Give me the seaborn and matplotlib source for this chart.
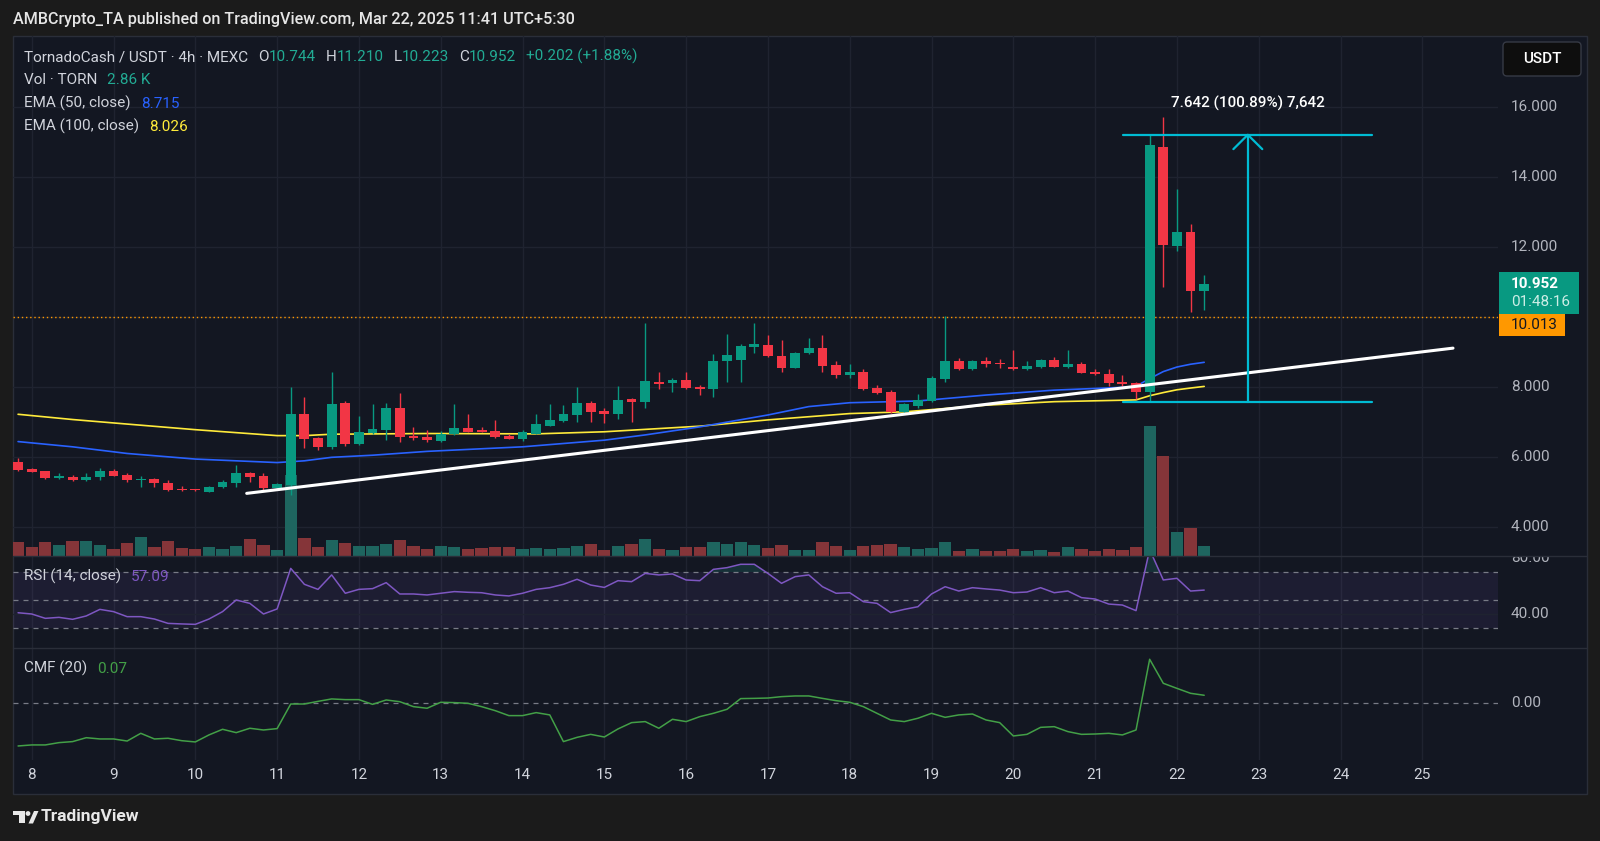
import matplotlib
matplotlib.use("Agg")
import matplotlib.pyplot as plt
import matplotlib.patches as mpatches
import matplotlib.transforms as mtransforms
import seaborn as sns
import numpy as np

# ---- data (4h candles, index 0 = Mar 7 20:00) ----
opens = [5.86, 5.68, 5.61, 5.42, 5.45, 5.35, 5.43, 5.61, 5.49, 5.35,
         5.38, 5.26, 5.09, 5.075, 5.02, 5.14, 5.28, 5.54, 5.46, 5.11,
         5.21, 7.23, 6.54, 6.30, 7.54, 6.37, 6.70, 6.78, 7.41, 6.61,
         6.57, 6.47, 6.66, 6.83, 6.78, 6.75, 6.62, 6.52, 6.68, 6.90,
         7.04, 7.21, 7.54, 7.33, 7.24, 7.66, 7.57, 8.16, 8.11, 8.21,
         8.00, 7.94, 8.76, 8.78, 9.16, 9.21, 8.89, 8.56, 8.97, 9.11,
         8.64, 8.35, 8.45, 7.97, 7.87, 7.30, 7.47, 7.62, 8.23, 8.76,
         8.51, 8.76, 8.70, 8.59, 8.51, 8.59, 8.78, 8.59, 8.68, 8.45,
         8.38, 8.16, 8.13, 7.88, 14.86, 12.04, 12.45, 10.744]
highs = [5.97, 5.70, 5.62, 5.54, 5.50, 5.54, 5.69, 5.68, 5.56, 5.48,
         5.42, 5.35, 5.19, 5.09, 5.18, 5.35, 5.77, 5.59, 5.54, 5.26,
         8.02, 7.71, 6.59, 8.43, 7.62, 7.18, 7.51, 7.54, 7.83, 6.86,
         6.78, 6.75, 7.52, 7.24, 6.87, 7.06, 6.68, 6.78, 7.24, 7.52,
         7.49, 8.02, 7.62, 7.40, 8.04, 7.70, 9.85, 8.45, 8.26, 8.45,
         8.07, 8.95, 9.51, 9.24, 9.85, 9.49, 9.35, 9.02, 9.40, 9.49,
         8.76, 8.66, 8.51, 8.07, 7.92, 7.54, 7.80, 8.32, 10.04, 8.83,
         8.79, 8.86, 8.80, 9.07, 8.76, 8.80, 8.86, 9.07, 8.73, 8.51,
         8.51, 8.35, 8.16, 15.217, 15.73, 13.67, 12.67, 11.210]
lows = [5.61, 5.57, 5.38, 5.38, 5.33, 5.33, 5.35, 5.46, 5.30, 5.14,
        5.14, 5.04, 5.04, 5.04, 5.01, 5.13, 5.16, 5.30, 5.07, 5.08,
        4.92, 6.26, 6.21, 6.23, 6.33, 6.35, 6.66, 6.49, 6.45, 6.49,
        6.45, 6.44, 6.65, 6.72, 6.72, 6.54, 6.52, 6.46, 6.67, 6.89,
        7.02, 7.02, 7.02, 6.97, 7.09, 7.02, 7.42, 7.94, 7.88, 7.95,
        7.78, 7.73, 8.16, 8.16, 8.99, 8.87, 8.45, 8.54, 8.96, 8.45,
        8.26, 8.26, 7.92, 7.81, 7.28, 7.26, 7.40, 7.59, 8.16, 8.49,
        8.49, 8.59, 8.54, 8.50, 8.50, 8.56, 8.58, 8.56, 8.41, 8.36,
        8.04, 8.04, 7.68, 7.575, 10.86, 11.90, 10.16, 10.223]
closes = [5.64, 5.58, 5.40, 5.45, 5.35, 5.45, 5.62, 5.48, 5.35, 5.38,
          5.26, 5.07, 5.07, 5.056, 5.14, 5.29, 5.54, 5.45, 5.11, 5.23,
          7.23, 6.52, 6.30, 7.51, 6.37, 6.71, 6.80, 7.41, 6.57, 6.55,
          6.49, 6.66, 6.83, 6.73, 6.73, 6.57, 6.53, 6.71, 6.95, 7.06,
          7.24, 7.56, 7.30, 7.24, 7.64, 7.59, 8.18, 8.09, 8.21, 7.97,
          7.95, 8.75, 8.92, 9.18, 9.24, 8.89, 8.56, 8.99, 9.11, 8.62,
          8.35, 8.45, 7.94, 7.83, 7.30, 7.51, 7.64, 8.28, 8.76, 8.51,
          8.76, 8.68, 8.66, 8.51, 8.61, 8.78, 8.59, 8.68, 8.42, 8.37,
          8.13, 8.10, 7.88, 14.92, 12.07, 12.43, 10.76, 10.952]
volume_k = [4.14, 2.76, 4.14, 3.35, 4.44, 4.44, 3.35, 2.07, 3.85, 5.72,
            2.76, 4.44, 2.27, 2.07, 2.56, 2.07, 3.06, 4.93, 3.35, 1.77,
            23.8, 5.23, 2.56, 4.73, 3.85, 2.86, 3.06, 3.45, 4.73, 2.86,
            2.07, 2.86, 2.56, 2.07, 2.37, 2.56, 2.56, 2.07, 2.37, 2.07,
            2.37, 2.86, 3.65, 1.77, 3.06, 3.65, 4.93, 2.07, 1.77, 2.56,
            2.56, 4.14, 3.65, 4.14, 3.35, 2.37, 3.16, 1.77, 1.77, 4.14,
            2.86, 1.77, 2.86, 3.35, 3.65, 2.56, 2.07, 2.37, 4.14, 1.48,
            2.07, 1.48, 1.48, 2.07, 1.48, 1.77, 1.18, 2.56, 2.07, 1.48,
            2.07, 1.77, 2.56, 38.4, 29.4, 7.10, 8.38, 2.86]
rsi = [40.9, 40.0, 36.9, 37.6, 36.2, 38.6, 43.3, 41.7, 38.1, 38.1,
       36.4, 33.3, 32.9, 32.6, 36.4, 41.7, 50.0, 47.6, 40.0, 43.6,
       72.6, 61.2, 57.6, 67.9, 54.8, 57.6, 58.1, 62.4, 54.3, 54.3,
       53.6, 54.8, 56.0, 55.5, 55.2, 53.6, 52.9, 54.8, 57.6, 58.8,
       61.2, 64.8, 60.7, 59.0, 63.8, 63.1, 69.0, 67.9, 68.6, 64.3,
       63.8, 71.9, 73.1, 75.5, 75.5, 69.0, 61.9, 66.7, 67.9, 59.5,
       54.8, 55.2, 48.8, 47.6, 41.0, 43.3, 45.2, 54.3, 59.5, 56.4,
       58.8, 57.9, 57.1, 55.2, 55.7, 58.8, 55.2, 56.4, 51.7, 50.7,
       47.1, 46.4, 42.4, 86.0, 64.3, 65.5, 56.4, 57.09]
cmf = [-0.371, -0.362, -0.362, -0.342, -0.333, -0.299, -0.310, -0.310, -0.328, -0.261,
       -0.310, -0.304, -0.325, -0.336, -0.275, -0.226, -0.255, -0.217, -0.232, -0.220,
       -0.006, -0.006, 0.017, 0.038, 0.032, 0.032, -0.009, 0.029, 0.014, -0.029,
       -0.043, 0.009, 0.006, 0.000, -0.029, -0.064, -0.107, -0.107, -0.081, -0.101,
       -0.333, -0.296, -0.270, -0.293, -0.223, -0.168, -0.159, -0.217, -0.139, -0.159,
       -0.116, -0.087, -0.052, 0.041, 0.043, 0.046, 0.058, 0.064, 0.064, 0.043,
       0.023, 0.009, -0.029, -0.087, -0.145, -0.159, -0.130, -0.087, -0.122, -0.101,
       -0.093, -0.145, -0.168, -0.284, -0.270, -0.209, -0.203, -0.246, -0.270, -0.267,
       -0.261, -0.275, -0.232, 0.383, 0.174, 0.130, 0.087, 0.07]

# EMA lines read at a set of candles
ema50_idx = [0, 4, 8, 13, 19, 21, 23, 26, 30, 37, 43, 46, 50, 55, 58, 61, 66, 71,
             76, 81, 82, 83, 84, 85, 86, 87]
ema50 = [6.45, 6.30, 6.11, 5.95, 5.85, 5.90, 6.00, 6.06, 6.17, 6.30, 6.49, 6.64,
         6.87, 7.21, 7.45, 7.56, 7.61, 7.78, 7.92, 8.00, 8.03, 8.25, 8.45, 8.58,
         8.66, 8.715]
ema100_idx = [0, 4, 8, 13, 19, 21, 23, 30, 38, 43, 50, 55, 61, 65, 71, 76, 82, 83,
              84, 85, 86, 87]
ema100 = [7.23, 7.08, 6.95, 6.79, 6.62, 6.62, 6.66, 6.68, 6.67, 6.73, 6.89, 7.07,
          7.25, 7.30, 7.49, 7.59, 7.64, 7.76, 7.85, 7.93, 7.98, 8.026]

days = list(range(8, 26))          # day-of-month ticks (Mar 8 .. Mar 25)
first_day_idx = 1                  # candle index of Mar 8 00:00
bars_per_day = 6

trend_x = [16.77, 105.25]          # drawn trend line
trend_y = [4.97, 9.12]
range_low, range_high = 7.575, 15.217
range_x = [81.07, 99.29]
range_arrow_x = 90.2
range_label = "7.642 (100.89%) 7,642"
ref_line = 10.013
price_ticks = [4, 6, 8, 12, 14, 16]
price_grid = [4, 6, 8, 10, 12, 14, 16]

# ---- style ----
W, H = 1600, 841
BG = '#131722'
OUTER = '#1b1b1b'
GRID = '#1f2330'
TXT = '#d1d4dc'
AX_TXT = '#b2b5be'
UP, DOWN = '#089981', '#f23645'
VOL_UP, VOL_DOWN = '#1e655f', '#853539'
TEAL_TXT = '#22ab94'
BLUE, YELLOW = '#2962ff', '#ffeb3b'
PURPLE, CMF_GREEN = '#7e57c2', '#43a047'
CYAN = '#00bcd4'
FS = 11

sns.set_theme(style="dark")
plt.rcParams['font.family'] = ['Roboto', 'DejaVu Sans']

fig = plt.figure(figsize=(16, 8.41), dpi=100, facecolor=OUTER)
PX = mtransforms.Affine2D().scale(1 / W, -1 / H).translate(0, 1) + fig.transFigure


def fbox(x0, y0, x1, y1):
    return [x0 / W, 1 - y1 / H, (x1 - x0) / W, (y1 - y0) / H]


# chart panel
fig.add_artist(mpatches.Rectangle((13, 36), 1574, 758, transform=PX,
                                  facecolor=BG, edgecolor='#2a2e39', lw=1, zorder=0))
for yy in (556, 648):
    fig.add_artist(plt.Line2D([13, 1587], [yy, yy], transform=PX, color='#2a2e39', lw=1))

ax_v = fig.add_axes(fbox(13, 36, 1498, 556))
ax_p = fig.add_axes(fbox(13, 36, 1498, 556), sharex=ax_v)
ax_r = fig.add_axes(fbox(13, 556, 1498, 648), sharex=ax_v)
ax_c = fig.add_axes(fbox(13, 648, 1498, 760), sharex=ax_v)
ax_v.set_zorder(1)
ax_p.set_zorder(2)
for ax in (ax_v, ax_p, ax_r, ax_c):
    ax.axis('off')
    ax.set_facecolor('none')

idx = np.arange(len(closes))
o, h, l, c = map(np.array, (opens, highs, lows, closes))
up = c >= o
ax_v.set_xlim(-0.372, 108.55)
ax_p.set_ylim(3.18, 18.04)
ax_v.set_ylim(0, 153.4)
ax_r.set_ylim(15.71, 81.43)
ax_c.set_ylim(-0.493, 0.481)

# grid
day_x = [first_day_idx + (d - 8) * bars_per_day for d in days]
for ax in (ax_v, ax_r, ax_c):
    for x in day_x:
        ax.axvline(x, color=GRID, lw=1, zorder=0)
price_tr = mtransforms.blended_transform_factory(ax_v.transAxes, ax_p.transData)
for p in price_grid:
    ax_v.plot([0, 1], [p, p], transform=price_tr, color=GRID, lw=1, zorder=0)

# volume
ax_v.bar(idx, volume_k, width=0.9, color=np.where(up, VOL_UP, VOL_DOWN), lw=0, zorder=2)

# EMAs
sns.lineplot(x=ema100_idx, y=ema100, ax=ax_p, color=YELLOW, lw=1.2, zorder=2)
sns.lineplot(x=ema50_idx, y=ema50, ax=ax_p, color=BLUE, lw=1.2, zorder=2)

# candles
ccol = np.where(up, UP, DOWN)
ax_p.vlines(idx, l, h, colors=ccol, lw=1, zorder=3)
body = np.maximum(np.abs(c - o), 0.035)
ax_p.bar(idx, body, bottom=np.minimum(o, c), width=0.72, color=ccol, lw=0, zorder=4)

# drawings
ax_p.axhline(ref_line, color='#ff9800', lw=1, ls=(0, (1, 2)), zorder=2)
ax_p.plot(trend_x, trend_y, color='white', lw=2.2, solid_capstyle='round', zorder=6)
for lvl in (range_low, range_high):
    ax_p.plot(range_x, [lvl, lvl], color=CYAN, lw=1.6, zorder=6)
ax_p.plot([range_arrow_x, range_arrow_x], [range_low, range_high], color=CYAN, lw=1.6, zorder=6)
ax_p.plot([range_arrow_x - 1.06, range_arrow_x, range_arrow_x + 1.06],
          [range_high - 0.41, range_high, range_high - 0.41], color=CYAN, lw=1.6, zorder=6)
ax_p.text(range_arrow_x, range_high + 0.9, range_label,
          ha='center', va='center', color='white', fontsize=FS, fontweight='medium', zorder=7)

# RSI
ax_r.axhspan(30, 70, color=PURPLE, alpha=0.1, lw=0, zorder=0)
ax_r.axhline(40, color=GRID, lw=1, zorder=0)
for lvl in (70, 50, 30):
    ax_r.axhline(lvl, color='#787b86', lw=0.9, ls=(0, (4, 4)), zorder=1)
rsi_a = np.array(rsi)
ax_r.fill_between(idx, rsi_a, 70, where=rsi_a > 70, interpolate=True,
                  color='#26a69a', alpha=0.18, lw=0, zorder=1)
sns.lineplot(x=idx, y=rsi, ax=ax_r, color=PURPLE, lw=1.1, zorder=3)

# CMF
ax_c.axhline(0, color='#787b86', lw=0.9, ls=(0, (4, 4)), zorder=1)
sns.lineplot(x=idx, y=cmf, ax=ax_c, color=CMF_GREEN, lw=1.1, zorder=3)

# right axis labels
lab_x = (1511 - 13) / 1485
for ax, ticks, fmt in ((ax_p, price_ticks, '{:.3f}'), (ax_r, [80, 40], '{:.2f}'), (ax_c, [0], '{:.2f}')):
    tr = mtransforms.blended_transform_factory(ax.transAxes, ax.transData)
    for t in ticks:
        tx = ax.text(lab_x, t, fmt.format(t), transform=tr, ha='left', va='center',
                     color=AX_TXT, fontsize=FS, clip_on=False)
        if ax is ax_r:
            tx.set_clip_box(mtransforms.TransformedBbox(
                mtransforms.Bbox.from_extents(13, 556, 1587, 648), PX))
            tx.set_clip_on(True)

# time axis labels
tr_c = mtransforms.blended_transform_factory(ax_c.transData, ax_c.transAxes)
for d, x in zip(days, day_x):
    ax_c.text(x, -0.13, str(d), transform=tr_c, ha='center', va='center',
              color=TXT, fontsize=FS, clip_on=False)

# price boxes
fig.add_artist(mpatches.Rectangle((1499, 271.7), 80, 42.3, transform=PX, facecolor=UP, lw=0, zorder=5))
fig.add_artist(mpatches.Rectangle((1499, 314), 66, 22, transform=PX, facecolor='#ff9800', lw=0, zorder=5))
fig.text(1511, 284, f"{closes[-1]:.3f}", transform=PX, color='white', fontsize=FS,
         fontweight='bold', va='center', ha='left', zorder=6)
fig.text(1511, 302.5, "01:48:16", transform=PX, color='#cdeee6', fontsize=FS,
         va='center', ha='left', zorder=6)
fig.text(1511, 325, f"{ref_line:.3f}", transform=PX, color='#131722', fontsize=FS,
         va='center', ha='left', zorder=6)
fig.add_artist(mpatches.FancyBboxPatch((1503, 42), 78, 34, transform=PX,
                                       boxstyle='round,pad=0,rounding_size=4',
                                       facecolor='#0e0e0e', edgecolor='#363a45', lw=1, zorder=5))
fig.text(1542, 59, "USDT", transform=PX, color='white', fontsize=FS,
         fontweight='medium', ha='center', va='center', zorder=6)


def chain(x, y, parts, size=FS):
    t = ax_p.annotate(parts[0][0], xy=(x, y), xycoords=PX, color=parts[0][1],
                      fontsize=size, va='center', ha='left', annotation_clip=False)
    for s, col, gap in parts[1:]:
        t = ax_p.annotate(s, xy=(1, 0), xycoords=t, xytext=(gap, 0), textcoords='offset pixels',
                          color=col, fontsize=size, va='bottom', ha='left', annotation_clip=False)


chain(24, 57, [("TornadoCash / USDT · 4h · MEXC", TXT),
               ("O", TXT, 10), (f"{opens[-1]:.3f}", TEAL_TXT, 0),
               ("H", TXT, 10), (f"{highs[-1]:.3f}", TEAL_TXT, 0),
               ("L", TXT, 10), (f"{lows[-1]:.3f}", TEAL_TXT, 0),
               ("C", TXT, 10), (f"{closes[-1]:.3f}", TEAL_TXT, 0),
               ("+0.202 (+1.88%)", TEAL_TXT, 10)])
chain(24, 80, [("Vol · TORN", TXT), (f"{volume_k[-1]:.2f} K", TEAL_TXT, 10)])
chain(24, 103, [("EMA (50, close)", TXT), (f"{ema50[-1]:.3f}", BLUE, 10)])
chain(24, 126, [("EMA (100, close)", TXT), (f"{ema100[-1]:.3f}", YELLOW, 10)])
chain(24, 576.5, [("RSI (14, close)", TXT), (f"{rsi[-1]:.2f}", PURPLE, 10)])
chain(24, 668, [("CMF (20)", TXT), (f"{cmf[-1]:.2f}", CMF_GREEN, 10)])

# header and footer
fig.text(13, 19.5, "AMBCrypto_TA published on TradingView.com, Mar 22, 2025 11:41 UTC+5:30",
         transform=PX, color='#e6e6e6', fontsize=11.6, fontweight='medium', va='center', ha='left')
logo = '#e8e8e8'
fig.add_artist(mpatches.Rectangle((13, 811), 11.5, 4.5, transform=PX, facecolor=logo, lw=0))
fig.add_artist(mpatches.Rectangle((18.5, 811), 6, 12.5, transform=PX, facecolor=logo, lw=0))
fig.add_artist(mpatches.Circle((28, 813.5), 2.4, transform=PX, facecolor=logo, lw=0))
fig.add_artist(mpatches.Polygon([(28.5, 823.5), (33, 823.5), (38.5, 811), (34, 811)],
                                transform=PX, facecolor=logo, lw=0))
fig.text(41, 817, "TradingView", transform=PX, color=logo, fontsize=12.5,
         fontweight='bold', va='center', ha='left')

fig.savefig("out.png", dpi=100, facecolor=OUTER)
